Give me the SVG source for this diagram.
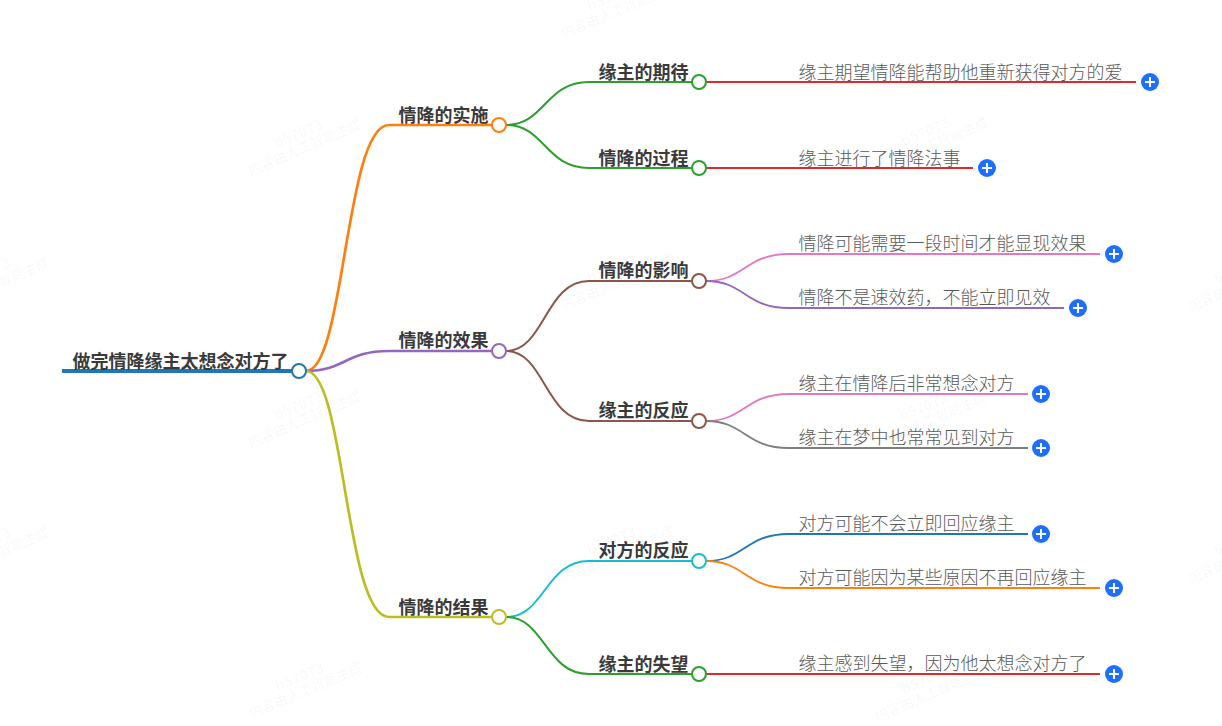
<svg xmlns="http://www.w3.org/2000/svg" width="1222" height="726" viewBox="0 0 1222 726">
<style>
text{font-family:"Noto Sans CJK SC","Liberation Sans",sans-serif}
.b{font-size:18px;font-weight:700;fill:#3a3a3a}
.l{font-size:18px;font-weight:300;fill:#5a5a5a}
.w{font-size:13.5px;fill:#000;fill-opacity:.045;text-anchor:middle}
#connectors path{fill:none;stroke-linecap:butt}
.t{stroke-width:2.7}.s{stroke-width:2}.f{stroke-width:1.8}
circle.n{fill:#fff;stroke-width:2}
.p{fill:#1e6fff}.x{stroke:#fff;stroke-width:2;fill:none}
</style>
<defs>
<g id="plus"><circle class="p" r="9"/><path class="x" d="M-5 0H5M0-5V5"/></g>
<g id="wm"><text class="w" y="-11" letter-spacing="1">b57073</text><text class="w" y="4">内容由人工智能生成</text></g>
</defs>
<g id="watermarks">
<use href="#wm" transform="translate(305 148) rotate(-23)"/>
<use href="#wm" transform="translate(305 420) rotate(-23)"/>
<use href="#wm" transform="translate(306 691) rotate(-23)"/>
<use href="#wm" transform="translate(932 146) rotate(-23)"/>
<use href="#wm" transform="translate(930 421) rotate(-23)"/>
<use href="#wm" transform="translate(932 694) rotate(-23)"/>
<use href="#wm" transform="translate(618 11) rotate(-23)"/>
<use href="#wm" transform="translate(618 283) rotate(-23)"/>
<use href="#wm" transform="translate(618 555) rotate(-23)"/>
<use href="#wm" transform="translate(-7 286) rotate(-23)"/>
<use href="#wm" transform="translate(-7 556) rotate(-23)"/>
<use href="#wm" transform="translate(1245 284) rotate(-23)"/>
<use href="#wm" transform="translate(1245 556) rotate(-23)"/>
</g>
<g id="connectors">
<path d="M62 371H292" stroke="#1f77b4" stroke-width="4"/>
<path class="t" d="M306 371C345 371 345 125 389 125H492" stroke="#ff7f0e"/>
<path class="t" d="M306 371C345 371 345 351 389 351H492" stroke="#9467bd"/>
<path class="t" d="M306 371C345 371 345 617 389 617H492" stroke="#bcbd22"/>
<path class="s" d="M506 125C545 125 545 82 589 82H692" stroke="#2ca02c"/>
<path class="s" d="M506 125C545 125 545 168 589 168H692" stroke="#2ca02c"/>
<path class="s" d="M506 351C545 351 545 281 589 281H692" stroke="#8c564b"/>
<path class="s" d="M506 351C545 351 545 421 589 421H692" stroke="#8c564b"/>
<path class="s" d="M506 617C545 617 545 561 589 561H692" stroke="#17becf"/>
<path class="s" d="M506 617C545 617 545 674 589 674H692" stroke="#2ca02c"/>
<path class="f" d="M706 82H1136" stroke="#e0282e"/>
<path class="f" d="M706 168H973" stroke="#e0282e"/>
<path class="f" d="M706 281C745 281 745 254 789 254H1100" stroke="#e377c2"/>
<path class="f" d="M706 281C745 281 745 308 789 308H1064" stroke="#9467bd"/>
<path class="f" d="M706 421C745 421 745 394 789 394H1028" stroke="#e377c2"/>
<path class="f" d="M706 421C745 421 745 448 789 448H1028" stroke="#7f7f7f"/>
<path class="f" d="M706 561C745 561 745 534 789 534H1028" stroke="#1f77b4"/>
<path class="f" d="M706 561C745 561 745 588 789 588H1100" stroke="#ff7f0e"/>
<path class="f" d="M706 674H1100" stroke="#e0282e"/>
</g>
<g id="root"><text class="b" x="72.500" y="368">做完情降缘主太想念对方了</text><circle class="n" cx="299" cy="371" r="7" stroke="#1f77b4"/></g>
<g id="n1"><text class="b" x="398.500" y="122">情降的实施</text><circle class="n" cx="499" cy="125" r="7" stroke="#ff7f0e"/></g>
<g id="n2"><text class="b" x="398.500" y="347">情降的效果</text><circle class="n" cx="499" cy="351" r="7" stroke="#9467bd"/></g>
<g id="n3"><text class="b" x="398.500" y="614">情降的结果</text><circle class="n" cx="499" cy="617" r="7" stroke="#bcbd22"/></g>
<g id="n11"><text class="b" x="598.500" y="79">缘主的期待</text><circle class="n" cx="699" cy="82" r="7" stroke="#2ca02c"/></g>
<g id="n12"><text class="b" x="598.500" y="165">情降的过程</text><circle class="n" cx="699" cy="168" r="7" stroke="#2ca02c"/></g>
<g id="n21"><text class="b" x="598.500" y="277">情降的影响</text><circle class="n" cx="699" cy="281" r="7" stroke="#8c564b"/></g>
<g id="n22"><text class="b" x="598.500" y="417">缘主的反应</text><circle class="n" cx="699" cy="421" r="7" stroke="#8c564b"/></g>
<g id="n31"><text class="b" x="598.500" y="557">对方的反应</text><circle class="n" cx="699" cy="561" r="7" stroke="#17becf"/></g>
<g id="n32"><text class="b" x="598.500" y="671">缘主的失望</text><circle class="n" cx="699" cy="674" r="7" stroke="#2ca02c"/></g>
<g id="l1"><text class="l" x="798.500" y="79">缘主期望情降能帮助他重新获得对方的爱</text><use href="#plus" x="1150" y="82"/></g>
<g id="l2"><text class="l" x="798.500" y="165">缘主进行了情降法事</text><use href="#plus" x="987" y="168"/></g>
<g id="l3"><text class="l" x="798.500" y="250">情降可能需要一段时间才能显现效果</text><use href="#plus" x="1114" y="254"/></g>
<g id="l4"><text class="l" x="798.500" y="304">情降不是速效药，不能立即见效</text><use href="#plus" x="1078" y="308"/></g>
<g id="l5"><text class="l" x="798.500" y="390">缘主在情降后非常想念对方</text><use href="#plus" x="1041" y="394"/></g>
<g id="l6"><text class="l" x="798.500" y="444">缘主在梦中也常常见到对方</text><use href="#plus" x="1041" y="448"/></g>
<g id="l7"><text class="l" x="798.500" y="530">对方可能不会立即回应缘主</text><use href="#plus" x="1041" y="534"/></g>
<g id="l8"><text class="l" x="798.500" y="584">对方可能因为某些原因不再回应缘主</text><use href="#plus" x="1114" y="588"/></g>
<g id="l9"><text class="l" x="798.500" y="670">缘主感到失望，因为他太想念对方了</text><use href="#plus" x="1114" y="674"/></g>
</svg>
